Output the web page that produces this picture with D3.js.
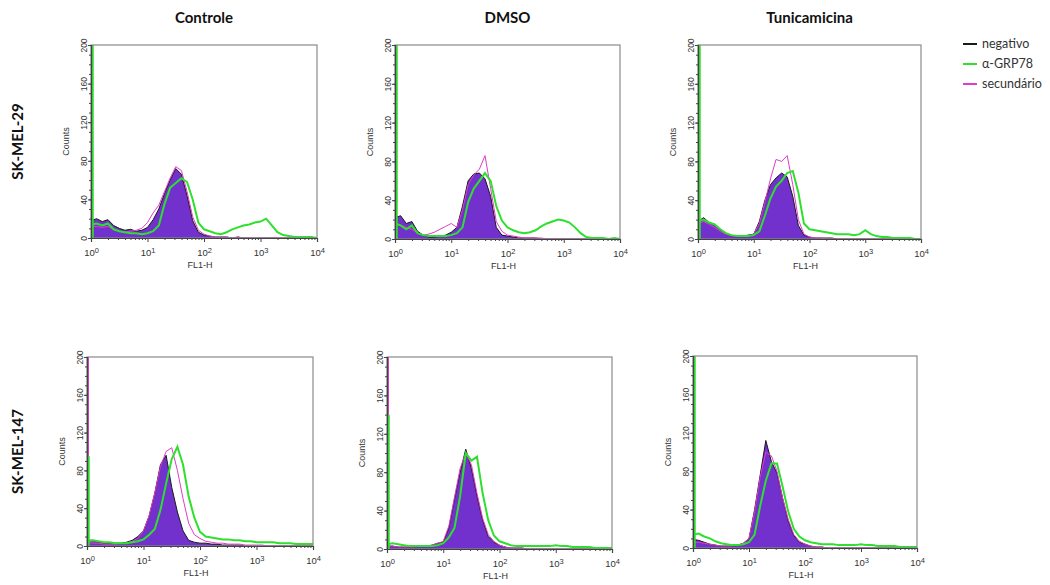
<!DOCTYPE html>
<html>
<head>
<meta charset="utf-8">
<script src="https://cdn.jsdelivr.net/npm/d3@7"></script>
<style>
  body { margin: 0; background: #fff; }
  .tick text { font-family: "Liberation Sans", Arial, sans-serif; font-size: 8.5px; fill: #333; }
  .xt .tick text { font-size: 9.5px; }
  .ptitle { font-family: Lato, "Open Sans", sans-serif; font-weight: bold; font-size: 15px; fill: #111; }
  .lbl { font-family: "Liberation Sans", Arial, sans-serif; font-size: 9px; fill: #333; }
  .leg { font-family: Lato, "Open Sans", sans-serif; font-size: 12.5px; fill: #333; }
</style>
</head>
<body>
<script>
// channels, log10 of FL1-H
var bins = [0, 0.1, 0.2, 0.3, 0.4, 0.5, 0.6, 0.7, 0.8, 0.9,
            1.0, 1.1, 1.2, 1.3, 1.4, 1.5, 1.6, 1.7, 1.8, 1.9,
            2.0, 2.1, 2.2, 2.3, 2.4, 2.5, 2.6, 2.7, 2.8, 2.9,
            3.0, 3.1, 3.2, 3.3, 3.4, 3.5, 3.6, 3.7, 3.8, 3.9, 4.0];

var treatments = ["Controle", "DMSO", "Tunicamicina"];
var cellLines = ["SK-MEL-29", "SK-MEL-147"];
var seriesNames = ["negativo", "α-GRP78", "secundário"];
var yTicks = [0, 40, 80, 120, 160, 200];
var xTicks = [1, 10, 100, 1000, 10000];

// SK-MEL-29
var neg29Ctrl = [18,20,17,19,13,10,8,9,7,8, 11,19,30,46,60,72,66,44,18,6, 3,2,1,1,1,0,1,0,0,0, 0,0,0,0,0,0,0,0,0,0,0];
var grp29Ctrl = [14,15,13,15,9,7,6,5,5,4, 5,7,13,35,52,57,62,58,40,16, 9,7,5,4,6,9,11,13,14,16, 17,20,13,6,3,2,1,1,1,1,0];
var sec29Ctrl = [12,12,11,12,9,7,6,7,8,10, 16,26,34,48,62,74,70,48,22,8, 4,2,1,1,1,0,1,0,0,0, 0,0,0,0,0,0,0,0,0,0,0];

var neg29Dmso = [22,24,16,18,8,4,2,2,3,4, 7,12,34,60,67,68,62,44,12,4, 3,2,1,1,1,1,0,0,0,0, 0,0,0,0,0,0,0,0,0,0,0];
var grp29Dmso = [16,14,10,14,6,4,3,3,3,3, 4,6,12,38,52,60,68,60,34,19, 12,9,7,6,7,9,13,16,18,20, 19,17,12,6,2,1,1,1,0,1,0];
var sec29Dmso = [15,14,12,10,6,4,5,7,10,13, 16,12,30,56,66,72,86,52,18,8, 4,3,2,1,1,1,1,0,0,0, 0,0,0,0,0,0,0,0,0,0,0];

var neg29Tuni = [18,22,17,15,9,5,3,3,3,4, 5,18,40,56,63,68,64,44,14,4, 2,1,1,1,1,0,0,0,0,0, 0,0,0,0,0,0,0,0,0,0,0];
var grp29Tuni = [18,20,17,15,10,6,4,3,3,3, 4,8,24,42,54,60,68,70,48,16, 10,9,8,7,6,5,5,5,4,5, 9,5,3,2,2,1,1,1,1,0,0];
var sec29Tuni = [16,18,15,12,8,5,3,3,3,3, 5,16,38,62,82,80,86,56,20,5, 2,1,1,0,0,0,0,0,0,0, 0,0,0,0,0,0,0,0,0,0,0];

// SK-MEL-147
var neg147Ctrl = [6,6,4,3,3,3,3,4,6,10, 16,32,56,86,96,62,36,16,6,4, 3,3,2,2,1,1,1,1,0,0, 0,0,0,0,0,0,0,0,0,0,0];
var grp147Ctrl = [5,6,5,4,4,3,3,3,4,5, 7,12,18,38,66,92,105,86,52,30, 15,10,9,8,7,7,6,6,5,5, 4,4,4,4,3,3,3,2,2,2,2];
var sec147Ctrl = [4,3,3,2,2,2,3,3,5,8, 16,32,56,84,100,104,80,50,24,12, 8,5,4,3,3,2,2,2,1,1, 1,1,0,0,0,0,0,0,0,0,0];

var neg147Dmso = [3,3,2,2,2,2,3,3,4,6, 7,22,52,80,104,84,55,30,13,7, 4,2,1,1,1,0,0,0,0,0, 0,0,0,0,0,0,0,0,0,0,0];
var grp147Dmso = [5,6,5,4,3,3,3,3,3,4, 6,12,22,55,100,92,96,58,30,14, 8,6,4,3,3,3,3,3,3,3, 4,3,3,2,2,2,2,1,1,1,1];
var sec147Dmso = [3,3,2,2,2,2,3,3,4,6, 8,24,54,84,100,88,58,32,15,8, 4,2,1,1,1,0,0,0,0,0, 0,0,0,0,0,0,0,0,0,0,0];

var neg147Tuni = [9,8,6,4,3,2,2,2,3,5, 10,40,76,112,90,78,52,28,13,6, 4,2,1,1,0,0,0,0,0,0, 0,0,0,0,0,0,0,0,0,0,0];
var grp147Tuni = [14,15,12,10,7,5,4,3,3,4, 6,14,44,70,88,88,64,38,20,12, 8,6,5,4,4,4,3,3,3,3, 4,3,3,2,2,2,2,1,1,1,1];
var sec147Tuni = [6,6,5,4,3,2,2,2,3,5, 10,38,74,100,96,80,52,30,14,7, 4,2,1,1,0,0,0,0,0,0, 0,0,0,0,0,0,0,0,0,0,0];

// first channel pile-up (off scale when > 200)
var edgeGrp = [230, 230, 230, 95, 140, 230];
var edgeSec = [15, 105, 110, 230, 230, 20];

var negSets = [neg29Ctrl, neg29Dmso, neg29Tuni, neg147Ctrl, neg147Dmso, neg147Tuni];
var grpSets = [grp29Ctrl, grp29Dmso, grp29Tuni, grp147Ctrl, grp147Dmso, grp147Tuni];
var secSets = [sec29Ctrl, sec29Dmso, sec29Tuni, sec147Ctrl, sec147Dmso, sec147Tuni];

var colors = {neg: "#1a1a1a", fill: "#7231cc", grp: "#2ee02e", sec: "#e03cc8"};

// panel frames (layout)
var frames = [
  {left: 91, right: 317, top: 45, bottom: 238},
  {left: 395, right: 620, top: 45, bottom: 239},
  {left: 698, right: 921, top: 45, bottom: 239},
  {left: 87, right: 313, top: 357, bottom: 546},
  {left: 387, right: 612, top: 357, bottom: 549},
  {left: 693, right: 917, top: 356, bottom: 548}
];

var svg = d3.select("body").append("svg")
    .attr("width", 1050)
    .attr("height", 585);

function drawPanel(i) {
  var f = frames[i];
  var x = d3.scaleLog().domain([1, 10000]).range([f.left, f.right]);
  var y = d3.scaleLinear().domain([0, 200]).range([f.bottom, f.top]);

  var g = svg.append("g").attr("class", "panel");

  g.append("clipPath").attr("id", "clip" + i)
    .append("rect")
      .attr("x", f.left).attr("y", f.top)
      .attr("width", f.right - f.left).attr("height", f.bottom - f.top);

  var plot = g.append("g").attr("clip-path", "url(#clip" + i + ")");

  var pts = function(arr) {
    return bins.map(function(b, k) { return {b: b, v: arr[k]}; });
  };

  var area = d3.area()
      .x(function(d) { return x(Math.pow(10, d.b)); })
      .y0(y(0))
      .y1(function(d) { return y(d.v); });

  var line = d3.line()
      .x(function(d) { return x(Math.pow(10, d.b)); })
      .y(function(d) { return y(d.v); });

  plot.append("path")
      .datum(pts(negSets[i]))
      .attr("d", area)
      .attr("fill", colors.fill);

  plot.append("path")
      .datum(pts(negSets[i]))
      .attr("d", line)
      .attr("fill", "none")
      .attr("stroke", colors.neg)
      .attr("stroke-width", 1);

  plot.append("path")
      .datum(pts(secSets[i]))
      .attr("d", line)
      .attr("fill", "none")
      .attr("stroke", colors.sec)
      .attr("stroke-width", 1);

  plot.append("path")
      .datum(pts(grpSets[i]))
      .attr("d", line)
      .attr("fill", "none")
      .attr("stroke", colors.grp)
      .attr("stroke-width", 2);

  // first channel spikes
  plot.append("line")
      .attr("x1", x(1) + 1).attr("x2", x(1) + 1)
      .attr("y1", y(0)).attr("y2", y(edgeSec[i]))
      .attr("stroke", colors.sec).attr("stroke-width", 2);
  plot.append("line")
      .attr("x1", x(1) + 1.5).attr("x2", x(1) + 1.5)
      .attr("y1", y(0)).attr("y2", y(edgeGrp[i]))
      .attr("stroke", colors.grp).attr("stroke-width", 2.5);

  // frame
  g.append("rect")
      .attr("x", f.left).attr("y", f.top)
      .attr("width", f.right - f.left).attr("height", f.bottom - f.top)
      .attr("fill", "none")
      .attr("stroke", "#8a8a8a")
      .attr("stroke-width", 1.2);

  // x axis
  var minor = [];
  for (var e = 0; e < 4; e++) {
    for (var m = 2; m <= 9; m++) minor.push(m * Math.pow(10, e));
  }
  g.append("g")
      .attr("transform", "translate(0," + f.bottom + ")")
      .call(d3.axisBottom(x).tickValues(minor).tickSize(2).tickFormat(""))
      .call(function(a) { a.select(".domain").remove(); a.selectAll("line").attr("stroke", "#444"); });

  var xa = g.append("g")
      .attr("class", "xt")
      .attr("transform", "translate(0," + f.bottom + ")")
      .call(d3.axisBottom(x).tickValues(xTicks).tickSize(4).tickPadding(4).tickFormat(""));
  xa.select(".domain").attr("stroke", "#444").attr("stroke-width", 1.2);
  xa.selectAll("line").attr("stroke", "#444");
  xa.selectAll(".tick text").each(function(d) {
    var t = d3.select(this).attr("dy", "1.05em");
    t.append("tspan").text("10");
    t.append("tspan").attr("dy", "-0.45em").attr("font-size", "7.5px").text(Math.round(Math.log10(d)));
  });

  g.append("text")
      .attr("class", "lbl")
      .attr("x", (f.left + f.right) / 2 - 4)
      .attr("y", f.bottom + 30)
      .attr("text-anchor", "middle")
      .text("FL1-H");

  // y axis
  var yMinor = d3.range(0, 201, 10);
  g.append("g")
      .attr("transform", "translate(" + f.left + ",0)")
      .call(d3.axisLeft(y).tickValues(yMinor).tickSize(2).tickFormat(""))
      .call(function(a) { a.select(".domain").remove(); a.selectAll("line").attr("stroke", "#444"); });

  var ya = g.append("g")
      .attr("transform", "translate(" + f.left + ",0)")
      .call(d3.axisLeft(y).tickValues(yTicks).tickSize(3).tickPadding(0));
  ya.select(".domain").attr("stroke", "#444").attr("stroke-width", 1.2);
  ya.selectAll("line").attr("stroke", "#444");
  ya.selectAll(".tick text")
      .attr("x", null).attr("dy", null)
      .attr("text-anchor", "middle")
      .attr("transform", "translate(-4,0) rotate(-90)");

  g.append("text")
      .attr("class", "lbl")
      .attr("transform", "translate(" + (f.left - 22) + "," + ((f.top + f.bottom) / 2) + ") rotate(-90)")
      .attr("text-anchor", "middle")
      .text("Counts");
}

for (var i = 0; i < frames.length; i++) drawPanel(i);

// column titles
treatments.forEach(function(t, c) {
  var f = frames[c];
  svg.append("text")
      .attr("class", "ptitle")
      .attr("x", (f.left + f.right) / 2)
      .attr("y", 23)
      .attr("text-anchor", "middle")
      .text(t);
});

// row labels
cellLines.forEach(function(t, r) {
  var f = frames[r * 3];
  svg.append("text")
      .attr("class", "ptitle")
      .attr("transform", "translate(23," + ((f.top + f.bottom) / 2) + ") rotate(-90)")
      .attr("text-anchor", "middle")
      .text(t);
});

// legend
var legColors = [colors.neg, colors.grp, colors.sec];
var leg = svg.append("g").attr("transform", "translate(963,44)");
seriesNames.forEach(function(n, k) {
  leg.append("line")
      .attr("x1", 0).attr("x2", 14)
      .attr("y1", k * 20).attr("y2", k * 20)
      .attr("stroke", legColors[k]).attr("stroke-width", 2);
  leg.append("text")
      .attr("class", "leg")
      .attr("x", 19).attr("y", k * 20 + 4)
      .text(n);
});
</script>
</body>
</html>
